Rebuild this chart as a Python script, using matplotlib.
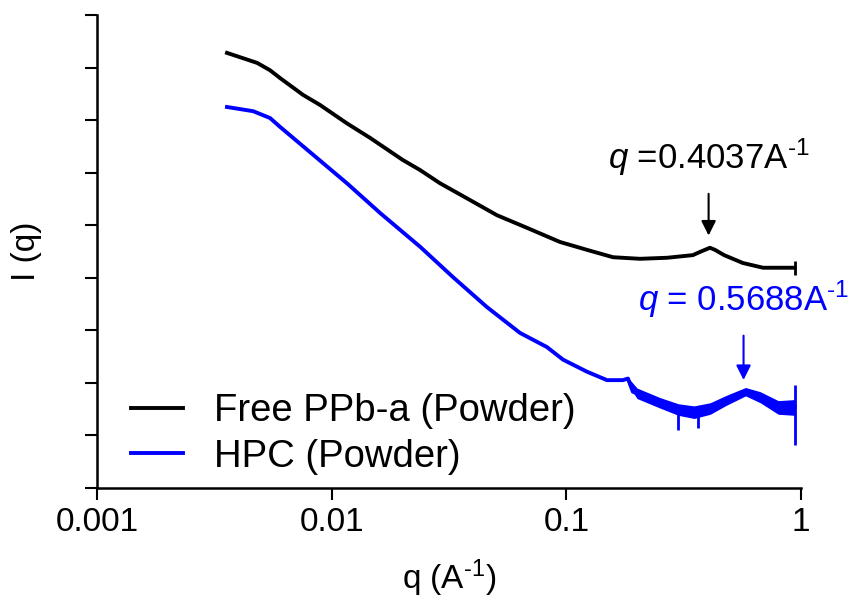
import numpy as np
import matplotlib
matplotlib.use('Agg')
import matplotlib.pyplot as plt

plt.rcParams['font.family'] = ['Liberation Sans', 'DejaVu Sans']
plt.rcParams['mathtext.fontset'] = 'custom'
plt.rcParams['mathtext.rm'] = 'Liberation Sans'
plt.rcParams['mathtext.it'] = 'Liberation Sans:italic'

# Free PPb-a (Powder) (y in tick units, 0..9)
free_q = [0.00358, 0.00481, 0.00546, 0.00603, 0.00755, 0.00891, 0.0116, 0.0146,
          0.0201, 0.0238, 0.0289, 0.0388, 0.0506, 0.0679, 0.094, 0.1225, 0.158,
          0.206, 0.269, 0.346, 0.375, 0.409, 0.43, 0.47, 0.565, 0.689, 0.94]
free_I = [8.28, 8.09, 7.95, 7.80, 7.48, 7.29, 6.94, 6.66,
          6.24, 6.05, 5.80, 5.48, 5.19, 4.95, 4.68, 4.53, 4.39,
          4.36, 4.38, 4.43, 4.50, 4.57, 4.53, 4.43, 4.28, 4.19, 4.19]

# HPC (Powder)
hpc_q = [0.00358, 0.00463, 0.00546, 0.00603, 0.00865, 0.0116, 0.0161, 0.0238,
         0.0329, 0.0459, 0.0634, 0.0826, 0.0968, 0.1225, 0.149, 0.174, 0.183,
         0.192, 0.251, 0.327, 0.409, 0.483, 0.577, 0.668, 0.813, 0.94]
hpc_I = [7.25, 7.17, 7.04, 6.87, 6.28, 5.80, 5.23, 4.59,
         4.01, 3.44, 2.95, 2.68, 2.44, 2.21, 2.05, 2.05, 2.08,
         1.83, 1.62, 1.45, 1.52, 1.67, 1.83, 1.73, 1.54, 1.54]

# noisy band of the HPC curve at high q
band_q = [0.183, 0.2, 0.25, 0.3, 0.35, 0.41, 0.48, 0.58, 0.67, 0.8, 0.94]
band_hi = [2.10, 1.90, 1.72, 1.60, 1.56, 1.62, 1.76, 1.91, 1.83, 1.66, 1.68]
band_lo = [1.97, 1.70, 1.52, 1.38, 1.32, 1.40, 1.57, 1.75, 1.62, 1.40, 1.38]
spike_q = [0.299, 0.364, 0.94]
spike_lo = [1.10, 1.14, 0.82]
spike_hi = [1.40, 1.45, 1.96]

xticks = [0.001, 0.01, 0.1, 1]
xticklabels = ['0.001', '0.01', '0.1', '1']

fig = plt.figure(figsize=(8.54, 6.03), dpi=100)
ax = fig.add_axes([0.1136, 0.191, 0.8244, 0.784])

ax.plot(free_q, free_I, color='black', lw=2.8, label='Free PPb-a (Powder)')
ax.plot(hpc_q, hpc_I, color='#0000ff', lw=2.8, label='HPC (Powder)')
ax.fill_between(band_q, band_lo, band_hi, color='#0000ff', lw=0)
ax.vlines(spike_q, spike_lo, spike_hi, color='#0000ff', lw=2)
ax.vlines([0.94], [4.05], [4.32], color='black', lw=2)

ax.set_xscale('log')
ax.set_xlim(0.001, 1)
ax.set_ylim(0, 9)
ax.set_xticks(xticks)
ax.set_xticklabels(xticklabels)
ax.minorticks_off()
ax.set_yticks(np.arange(0, 10))
ax.set_yticklabels([])
for s in ['top', 'right']:
    ax.spines[s].set_visible(False)
for s in ['left', 'bottom']:
    ax.spines[s].set_linewidth(1.8)
ax.tick_params(direction='out', length=8.5, width=1.5, labelsize=24, pad=5)

ax.set_xlabel(r'q (A$^{\text{-1}}$)', fontsize=24, labelpad=14)
ax.set_ylabel('I (q)', fontsize=24, labelpad=26)

ax.annotate('', xy=(0.4037, 4.75), xytext=(0.4037, 5.65),
            arrowprops=dict(arrowstyle='-|>', color='black', lw=1.5,
                            mutation_scale=22))
ax.text(0.4037, 5.9, r'$q$ =0.4037A$^{\text{-1}}$', fontsize=25, ha='center',
        va='bottom', color='black')
ax.annotate('', xy=(0.5688, 2.0), xytext=(0.5688, 2.95),
            arrowprops=dict(arrowstyle='-|>', color='#0000ff', lw=1.5,
                            mutation_scale=22))
ax.text(0.5688, 3.2, r'$q$ = 0.5688A$^{\text{-1}}$', fontsize=25, ha='center',
        va='bottom', color='#0000ff')

ax.legend(loc='lower left', bbox_to_anchor=(0.0, -0.045), frameon=False,
          fontsize=27.5, handlelength=1.35, handletextpad=0.8, labelspacing=0.25)

fig.savefig('out.png', dpi=100)
